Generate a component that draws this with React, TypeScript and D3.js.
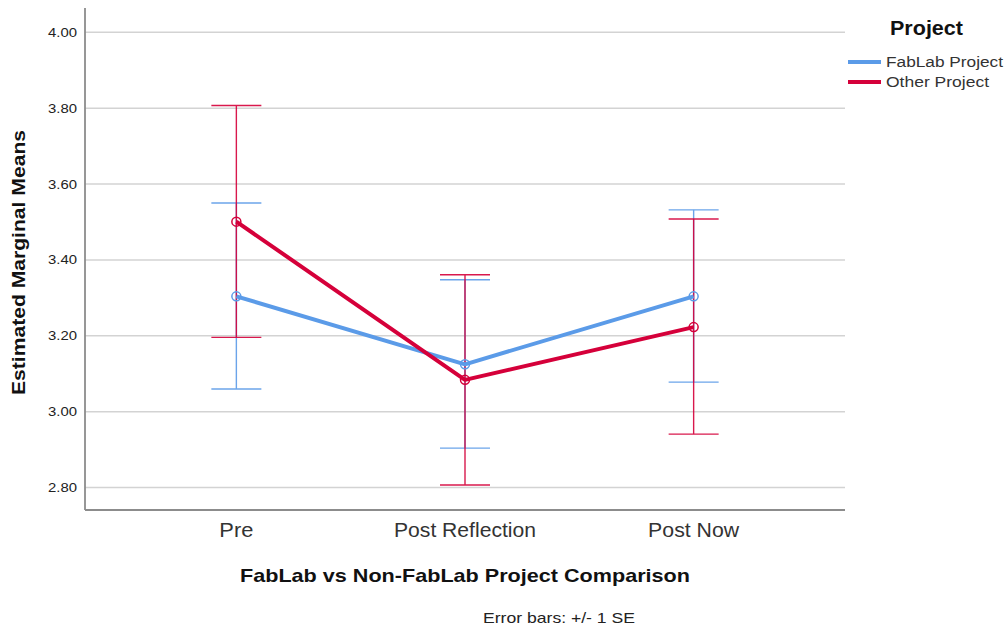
import React from "react";
import * as d3 from "d3";

const categories = ["Pre", "Post Reflection", "Post Now"];
const seriesNames = ["FabLab Project", "Other Project"];
const fablabMean = [3.304, 3.125, 3.304];
const fablabLow = [3.06, 2.904, 3.078];
const fablabHigh = [3.55, 3.348, 3.532];
const otherMean = [3.501, 3.084, 3.223];
const otherLow = [3.196, 2.807, 2.941];
const otherHigh = [3.807, 3.361, 3.508];
const yTicks = [2.8, 3.0, 3.2, 3.4, 3.6, 3.8, 4.0];
const colors = ["#5b9be8", "#d5003a"];

export default function App() {
  const W = 1007, H = 629;
  const left = 85, right = 845, top = 8, bottom = 510;
  const x = d3.scalePoint<string>().domain(categories).range([left, right]).padding(0.662);
  const y = d3.scaleLinear().domain([2.741, 4.064]).range([bottom, top]);
  const series = [
    { name: seriesNames[0], mean: fablabMean, lo: fablabLow, hi: fablabHigh, color: colors[0] },
    { name: seriesNames[1], mean: otherMean, lo: otherLow, hi: otherHigh, color: colors[1] },
  ];
  const line = d3.line<number>().x((_, i) => x(categories[i])!).y((d) => y(d));
  const font = "'Liberation Sans', Arial, sans-serif";
  const cap = 25;
  const catWidths = [34, 142, 91];
  const legendWidths = [117, 103];
  return (
    <svg width={W} height={H} style={{ position: "absolute", left: 0, top: 0, fontFamily: font }}>
      <rect width={W} height={H} fill="#fff" />
      {yTicks.map((t) => (
        <g key={t}>
          <line x1={left} x2={right} y1={y(t)} y2={y(t)} stroke="#d3d3d3" strokeWidth={1.5} />
          <text x={left - 8} y={y(t)} dy="0.35em" textAnchor="end" fontSize={13} fill="#222"
            textLength={29} lengthAdjust="spacingAndGlyphs">
            {t.toFixed(2)}
          </text>
        </g>
      ))}
      <line x1={left} x2={left} y1={top} y2={bottom} stroke="#8c8c8c" strokeWidth={1.8} />
      <line x1={left} x2={right} y1={bottom} y2={bottom} stroke="#8c8c8c" strokeWidth={1.8} />
      {categories.map((c, i) => (
        <text key={c} x={x(c)! - catWidths[i] / 2} y={537} fontSize={20} fill="#333"
          textLength={catWidths[i]} lengthAdjust="spacingAndGlyphs">
          {c}
        </text>
      ))}
      {series.map((s) => (
        <g key={s.name + "eb"} stroke={s.color} strokeWidth={1.4} opacity={0.9}>
          {categories.map((c, i) => (
            <g key={c}>
              <line x1={x(c)} x2={x(c)} y1={y(s.lo[i])} y2={y(s.hi[i])} />
              <line x1={x(c)! - cap} x2={x(c)! + cap} y1={y(s.lo[i])} y2={y(s.lo[i])} />
              <line x1={x(c)! - cap} x2={x(c)! + cap} y1={y(s.hi[i])} y2={y(s.hi[i])} />
            </g>
          ))}
        </g>
      ))}
      {series.map((s) => (
        <g key={s.name + "ln"}>
          <path d={line(s.mean)!} fill="none" stroke={s.color} strokeWidth={4} strokeLinejoin="round" />
          {categories.map((c, i) => (
            <circle key={c} cx={x(c)} cy={y(s.mean[i])} r={4.5} fill="none" stroke={s.color} strokeWidth={1.5} />
          ))}
        </g>
      ))}
      <text
        transform={`translate(25,${395}) rotate(-90)`}
        fontSize={18.5}
        fontWeight="bold"
        fill="#111"
        textLength={265}
        lengthAdjust="spacingAndGlyphs"
      >
        Estimated Marginal Means
      </text>
      <text x={240} y={582} fontSize={18.5} fontWeight="bold" fill="#111"
        textLength={450} lengthAdjust="spacingAndGlyphs">
        FabLab vs Non-FabLab Project Comparison
      </text>
      <text x={483} y={623} fontSize={15} fill="#222" textLength={152} lengthAdjust="spacingAndGlyphs">
        Error bars: +/- 1 SE
      </text>
      <text x={890} y={35} fontSize={20} fontWeight="bold" fill="#111" textLength={73} lengthAdjust="spacingAndGlyphs">
        Project
      </text>
      {series.map((s, i) => (
        <g key={s.name + "lg"}>
          <line x1={848} x2={881} y1={62 + i * 20} y2={62 + i * 20} stroke={s.color} strokeWidth={4} />
          <text x={886} y={62 + i * 20} dy="0.35em" fontSize={15.5} fill="#333"
            textLength={legendWidths[i]} lengthAdjust="spacingAndGlyphs">
            {s.name}
          </text>
        </g>
      ))}
    </svg>
  );
}
